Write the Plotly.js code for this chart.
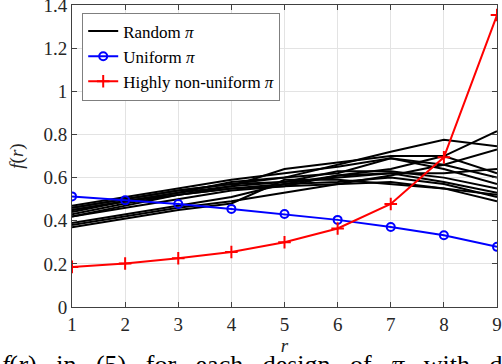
<!DOCTYPE html>
<html>
<head>
<meta charset="utf-8">
<script src="https://cdn.plot.ly/plotly-3.0.1.min.js"></script>
<style>
  html, body { margin: 0; padding: 0; background: #fff; }
  #chart { width: 502px; height: 364px; }
</style>
</head>
<body>
<div id="chart"></div>
<script>
const r = [1, 2, 3, 4, 5, 6, 7, 8, 9];

// black curves, one per random design of pi
const randomRuns = [
    [0.46, 0.50, 0.54, 0.57, 0.60, 0.66, 0.72, 0.775, 0.745],
    [0.45, 0.49, 0.53, 0.56, 0.64, 0.67, 0.70, 0.70, 0.62],
    [0.47, 0.51, 0.55, 0.59, 0.62, 0.65, 0.69, 0.66, 0.60],
    [0.44, 0.49, 0.53, 0.58, 0.60, 0.62, 0.69, 0.64, 0.57],
    [0.46, 0.50, 0.54, 0.57, 0.58, 0.63, 0.63, 0.60, 0.55],
    [0.42, 0.47, 0.52, 0.56, 0.58, 0.60, 0.62, 0.58, 0.53],
    [0.43, 0.48, 0.52, 0.55, 0.57, 0.58, 0.60, 0.57, 0.51],
    [0.45, 0.49, 0.52, 0.55, 0.56, 0.57, 0.58, 0.55, 0.49],
    [0.39, 0.43, 0.47, 0.51, 0.57, 0.61, 0.64, 0.70, 0.815],
    [0.38, 0.42, 0.46, 0.49, 0.53, 0.57, 0.61, 0.66, 0.73],
    [0.37, 0.41, 0.45, 0.48, 0.59, 0.59, 0.57, 0.55, 0.52],
    [0.42, 0.46, 0.50, 0.54, 0.56, 0.61, 0.62, 0.62, 0.64]
];
const uniform = [0.513, 0.495, 0.478, 0.455, 0.431, 0.404, 0.371, 0.333, 0.279];
const nonUniform = [0.186, 0.202, 0.226, 0.255, 0.300, 0.364, 0.478, 0.694, 1.354];

const yTicks = [0, 0.2, 0.4, 0.6, 0.8, 1, 1.2, 1.4];
const yTickText = ['0', '0.2', '0.4', '0.6', '0.8', '1', '1.2', '1.4'];

const SERIF = '"Liberation Serif", serif';

const traces = randomRuns.map((vals, i) => ({
    x: r,
    y: vals,
    type: 'scatter',
    mode: 'lines',
    name: 'Random <i>π</i>',
    legendgroup: 'random',
    showlegend: i === 0,
    line: { color: '#000000', width: 2 }
}));

traces.push({
    x: r,
    y: uniform,
    type: 'scatter',
    mode: 'lines+markers',
    name: 'Uniform <i>π</i>',
    line: { color: '#0000ff', width: 2 },
    marker: { symbol: 'circle-open', size: 8, color: '#0000ff', line: { width: 2, color: '#0000ff' } }
});

traces.push({
    x: r,
    y: nonUniform,
    type: 'scatter',
    mode: 'lines+markers',
    name: 'Highly non-uniform <i>π</i>',
    line: { color: '#ff0000', width: 2 },
    marker: { symbol: 'cross-thin-open', size: 9, color: '#ff0000', line: { width: 2, color: '#ff0000' } }
});

function axisStyle() {
    return {
        showline: true,
        mirror: 'ticks',
        linecolor: '#404040',
        linewidth: 1,
        ticks: 'inside',
        ticklen: 5,
        tickcolor: '#404040',
        showgrid: true,
        gridcolor: '#e3e3e3',
        gridwidth: 1,
        zeroline: false,
        ticklabeloverflow: 'allow',
        tickfont: { family: SERIF, size: 19, color: '#262626' }
    };
}

const layout = {
    width: 502,
    height: 364,
    margin: { l: 72, r: 5, t: 5, b: 57 },
    paper_bgcolor: '#ffffff',
    plot_bgcolor: '#ffffff',
    font: { family: SERIF, size: 19, color: '#262626' },
    showlegend: true,
    legend: {
        x: 0.024, y: 0.975,
        xanchor: 'left', yanchor: 'top',
        bgcolor: '#ffffff',
        bordercolor: '#7f7f7f',
        borderwidth: 1,
        font: { family: SERIF, size: 17, color: '#000000' },
        itemwidth: 30,
        tracegroupgap: 0
    },
    xaxis: Object.assign(axisStyle(), {
        range: [1, 9],
        tickvals: r,
        title: { text: '<i>r</i>', font: { family: SERIF, size: 19, color: '#262626' }, standoff: 2 }
    }),
    yaxis: Object.assign(axisStyle(), {
        range: [0, 1.4005],
        tickvals: yTicks,
        ticktext: yTickText,
        title: { text: '<i>f</i>(<i>r</i>)', font: { family: SERIF, size: 19, color: '#262626' }, standoff: 14 }
    }),
    annotations: [{
        xref: 'paper', yref: 'paper',
        x: -0.17, y: -0.136,
        xanchor: 'left', yanchor: 'top',
        showarrow: false,
        text: '<i>f</i>(<i>r</i>)   in   (5)   for   each   design   of   <i>π</i>   with   d',
        font: { family: SERIF, size: 26, color: '#000000' }
    }]
};

Plotly.newPlot('chart', traces, layout, { displayModeBar: false, staticPlot: true });
</script>
</body>
</html>
